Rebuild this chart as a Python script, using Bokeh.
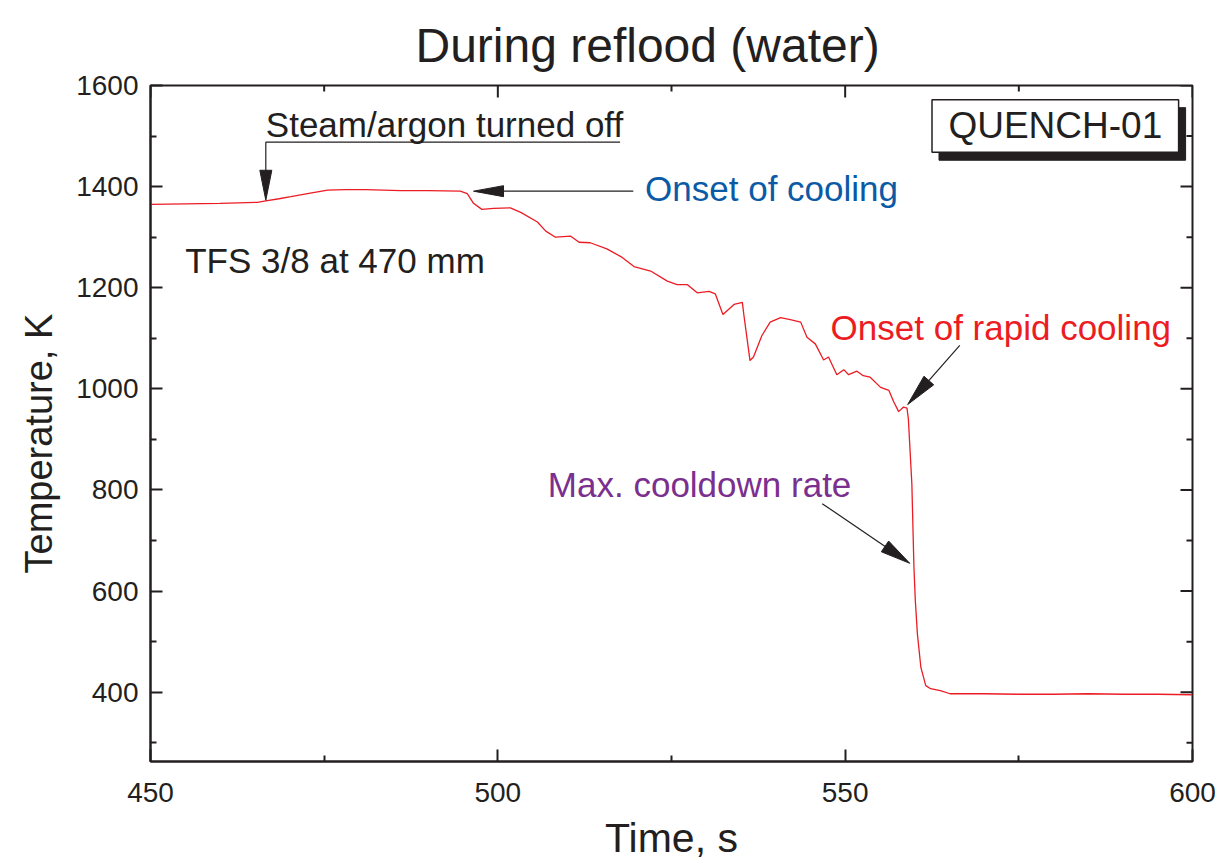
import math
from bokeh.plotting import figure
from bokeh.models import Range1d, FixedTicker, Label, Title
from bokeh.embed import file_html
from bokeh.resources import INLINE

# ---------------- data ----------------
time_s = [450.0, 455.0, 460.0, 465.4, 466.6, 468.5, 470.2, 473.0, 475.5, 478.0,
          481.0, 486.0, 490.0, 494.6, 495.6, 496.5, 497.7, 499.4, 501.8, 503.3,
          505.7, 506.9, 508.3, 510.5, 511.7, 513.3, 515.7, 517.9, 519.6, 522.0,
          524.4, 525.8, 527.3, 528.7, 530.4, 531.3, 532.4, 534.0, 535.2, 535.4,
          536.3, 536.8, 538.0, 539.2, 540.7, 542.1, 543.6, 544.5, 545.7, 546.9,
          547.6, 548.8, 549.8, 550.5, 551.7, 552.6, 553.6, 555.1, 556.3, 557.0,
          557.7, 558.4, 558.9, 559.1, 559.6, 559.9, 560.1, 560.4, 560.9, 561.6,
          562.3, 563.7, 565.1, 570.0, 575.0, 580.0, 585.0, 590.0, 595.0, 600.0]
temp_K = [1365, 1366, 1367, 1369, 1372, 1376, 1380, 1387, 1393, 1394,
          1394, 1392, 1392, 1391, 1386, 1367, 1355, 1357, 1358, 1349,
          1330, 1312, 1300, 1302, 1290, 1289, 1277, 1260, 1242, 1233,
          1213, 1206, 1206, 1190, 1193, 1188, 1147, 1167, 1171, 1148,
          1056, 1063, 1105, 1132, 1141, 1137, 1132, 1102, 1089, 1057,
          1063, 1028, 1038, 1028, 1035, 1026, 1023, 1003, 997, 974,
          955, 964, 962, 940, 812, 647, 581, 515, 449, 413,
          407, 403, 397, 397, 396, 396, 397, 396, 396, 395]

x_ticks = [450, 500, 550, 600]
x_minor = [475, 525, 575]
y_ticks = [400, 600, 800, 1000, 1200, 1400, 1600]
y_minor = [300, 500, 700, 900, 1100, 1300, 1500]

X_RANGE = (450, 600)
Y_RANGE = (263, 1600)

# annotations (data coordinates)
steam_tip = (466.6, 1373)
steam_corner_y = 1488
steam_end_x = 517.6
steam_text = (466.6, 1522)
cool_tip = (496.5, 1391)
cool_tail = (519.5, 1391)
cool_text = (521.2, 1396)
rapid_tip = (559.0, 969)
rapid_tail = (566.5, 1086)
rapid_text = (547.9, 1121)
max_tip = (559.3, 655)
max_tail = (546.7, 773)
max_text = (507.2, 811)
tfs_text = (455.0, 1254)
box_lrbt = (562.5, 598.0, 1468, 1572)

FONT = "Liberation Sans"
INK = "#231f20"
RED = "#ec1c24"
BLUE = "#0b5aa6"
PURPLE = "#7b2f8e"

W, H = 1224, 865
ML, MR, MT, MB = 150, 32, 85, 104
FW, FH = W - ML - MR, H - MT - MB
sx = FW / (X_RANGE[1] - X_RANGE[0])
sy = FH / (Y_RANGE[1] - Y_RANGE[0])

p = figure(width=W, height=H, x_range=Range1d(*X_RANGE), y_range=Range1d(*Y_RANGE),
           output_backend="svg", toolbar_location=None,
           min_border_left=ML, min_border_right=MR, min_border_top=MT, min_border_bottom=MB,
           x_axis_label="Time, s")
p.background_fill_color = "white"
p.border_fill_color = "white"
p.xgrid.visible = False
p.ygrid.visible = False
p.outline_line_color = INK
p.outline_line_width = 2

p.title.text = "During reflood (water)"
p.title.align = "left"
p.title.offset = 265
p.title.text_font = FONT
p.title.text_font_size = "48px"
p.title.text_font_style = "normal"
p.title.text_color = INK
p.title.standoff = 28


def style_axis(ax):
    ax.major_tick_in = 12
    ax.major_tick_out = 0
    ax.minor_tick_in = 6
    ax.minor_tick_out = 0
    ax.axis_line_width = 2
    ax.axis_line_color = INK
    ax.major_tick_line_width = 2
    ax.minor_tick_line_width = 2
    ax.major_tick_line_color = INK
    ax.minor_tick_line_color = INK
    ax.major_label_text_font = FONT
    ax.major_label_text_color = INK
    ax.major_label_text_font_size = "28px"
    ax.axis_label_text_font = FONT
    ax.axis_label_text_font_style = "normal"
    ax.axis_label_text_color = INK


bx = p.xaxis[0]
bx.ticker = FixedTicker(ticks=x_ticks, minor_ticks=x_minor)
style_axis(bx)
bx.major_label_standoff = 21
bx.axis_label_text_font_size = "41px"
bx.axis_label_standoff = 10

ly = p.yaxis[0]
ly.ticker = FixedTicker(ticks=y_ticks, minor_ticks=y_minor)
style_axis(ly)
ly.major_label_standoff = 12

ytitle = Title(text="Temperature, K", align="left", offset=188, text_font=FONT,
               text_font_size="38px", text_font_style="normal", text_color=INK, standoff=28)
p.add_layout(ytitle, "left")

# mirrored inward ticks on top and right frame edges
ytop, xr = Y_RANGE[1], X_RANGE[1]
p.segment(x0=x_ticks, y0=[ytop] * len(x_ticks), x1=x_ticks, y1=[ytop - 12 / sy] * len(x_ticks),
          line_color=INK, line_width=2)
p.segment(x0=x_minor, y0=[ytop] * len(x_minor), x1=x_minor, y1=[ytop - 6 / sy] * len(x_minor),
          line_color=INK, line_width=2)
p.segment(x0=[xr] * len(y_ticks), y0=y_ticks, x1=[xr - 12 / sx] * len(y_ticks), y1=y_ticks,
          line_color=INK, line_width=2)
p.segment(x0=[xr] * len(y_minor), y0=y_minor, x1=[xr - 6 / sx] * len(y_minor), y1=y_minor,
          line_color=INK, line_width=2)

# curve
p.line(time_s, temp_K, line_color=RED, line_width=1.3)


def head(tip, tail, L, Wd):
    dx = (tail[0] - tip[0]) * sx
    dy = (tail[1] - tip[1]) * sy
    n = math.hypot(dx, dy)
    ux, uy = dx / n, dy / n
    bxp, byp = ux * L, uy * L
    px_, py_ = -uy * Wd / 2, ux * Wd / 2
    c1 = (tip[0] + (bxp + px_) / sx, tip[1] + (byp + py_) / sy)
    c2 = (tip[0] + (bxp - px_) / sx, tip[1] + (byp - py_) / sy)
    base = (tip[0] + bxp * 0.8 / sx, tip[1] + byp * 0.8 / sy)
    return [tip[0], c1[0], c2[0]], [tip[1], c1[1], c2[1]], base


heads_x, heads_y = [], []

# steam arrow
hx, hy, base = head(steam_tip, (steam_tip[0], steam_corner_y), 30, 12)
heads_x.append(hx); heads_y.append(hy)
p.line([steam_end_x, steam_tip[0], steam_tip[0]], [steam_corner_y, steam_corner_y, base[1]],
       line_color=INK, line_width=1.2)

for tip, tail, L, Wd in [(cool_tip, cool_tail, 30, 11),
                         (rapid_tip, rapid_tail, 32, 13),
                         (max_tip, max_tail, 30, 13)]:
    hx, hy, base = head(tip, tail, L, Wd)
    heads_x.append(hx); heads_y.append(hy)
    p.line([tail[0], base[0]], [tail[1], base[1]], line_color=INK, line_width=1.2)

p.patches(heads_x, heads_y, fill_color=INK, line_color=INK, line_width=1)

# QUENCH-01 box with shadow
l, r, b, t = box_lrbt
sdx, sdy = 7 / sx, 8 / sy
p.quad(left=[l + sdx], right=[r + sdx], bottom=[b - sdy], top=[t - sdy],
       fill_color=INK, line_color=INK)
p.quad(left=[l], right=[r], bottom=[b], top=[t], fill_color="white",
       line_color=INK, line_width=1.5)


def lab(xy, text, color, size="35px", align="left"):
    p.add_layout(Label(x=xy[0], y=xy[1], text=text, text_font=FONT, text_font_size=size,
                       text_color=color, text_baseline="middle", text_align=align))


lab(steam_text, "Steam/argon turned off", INK, "35px")
lab(cool_text, "Onset of cooling", BLUE)
lab(rapid_text, "Onset of rapid cooling", RED)
lab(max_text, "Max. cooldown rate", PURPLE)
lab(tfs_text, "TFS 3/8 at 470 mm", INK, "35px")
lab(((l + r) / 2, (b + t) / 2), "QUENCH-01", INK, "37px", "center")

open("out.html", "w").write(file_html(p, INLINE))
